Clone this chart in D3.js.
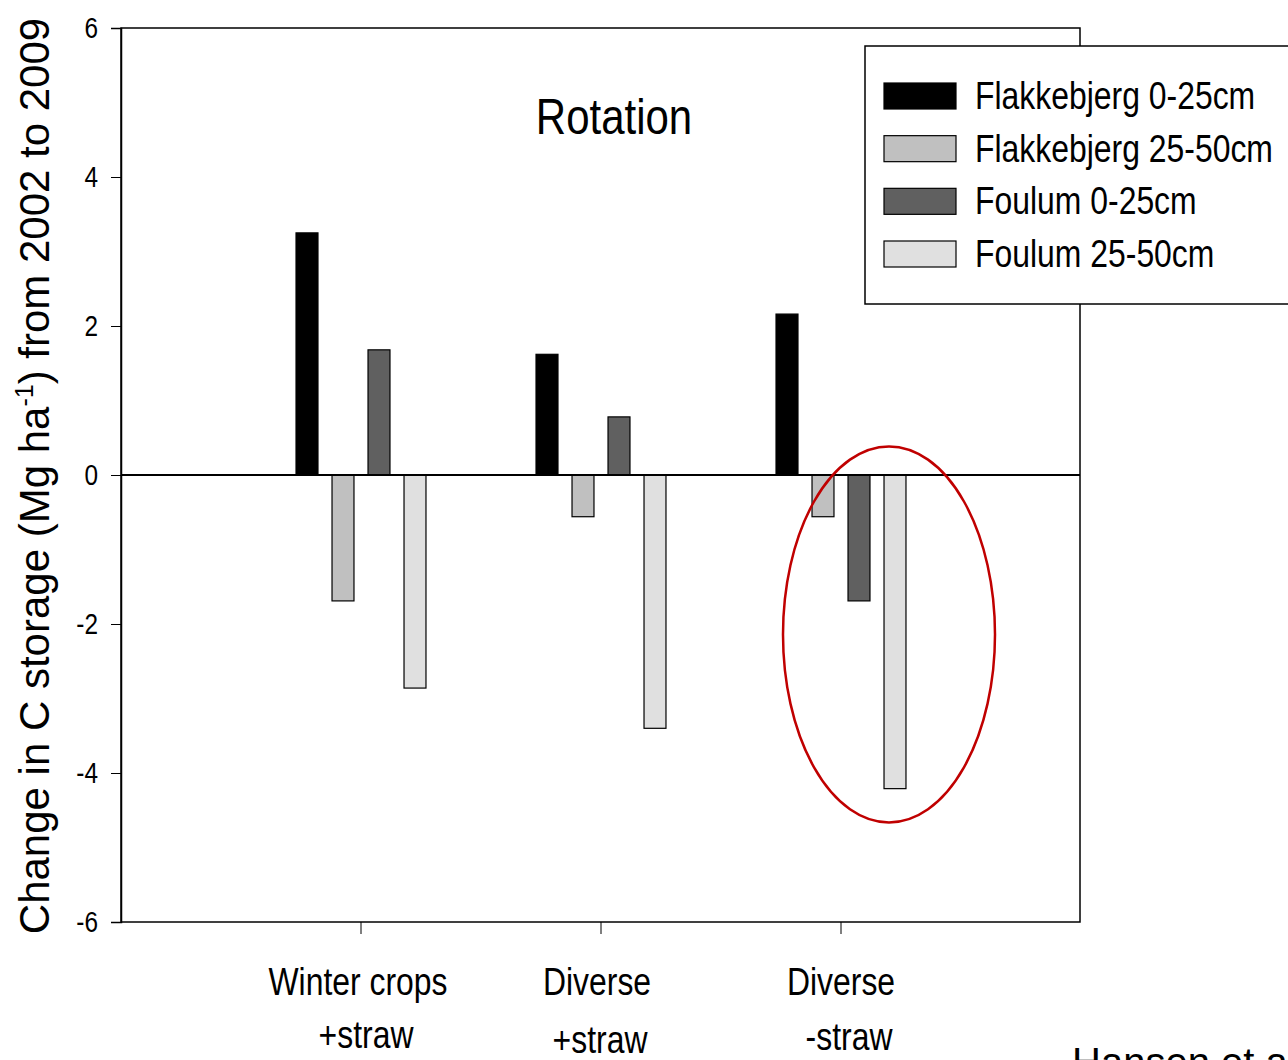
<!DOCTYPE html>
<html>
<head>
    <meta charset="utf-8">
    <title>Rotation</title>
    <script src="https://d3js.org/d3.v7.min.js"></script>
    <style>
        body { margin: 0; background: #fff; }
        text { fill: #000; }
    </style>
</head>
<body>
    <script type="text/javascript">
    // data
    const categories = ["Winter crops\n+straw", "Diverse\n+straw", "Diverse\n-straw"];
    const series = ["Flakkebjerg 0-25cm", "Flakkebjerg 25-50cm", "Foulum 0-25cm", "Foulum 25-50cm"];
    const flak0_25 = [3.25, 1.62, 2.16];
    const flak25_50 = [-1.69, -0.56, -0.56];
    const foul0_25 = [1.68, 0.78, -1.69];
    const foul25_50 = [-2.86, -3.40, -4.21];
    const yTicks = [-6, -4, -2, 0, 2, 4, 6];

    const values = [flak0_25, flak25_50, foul0_25, foul25_50];
    const fills = ["#000000", "#c0c0c0", "#606060", "#e0e0e0"];

    const width = 1288, height = 1060;
    const plot = {left: 121, right: 1080, top: 28, bottom: 922};
    const sans = "'Liberation Sans', Arial, sans-serif";
    const squeeze = 0.84; // the original uses a condensed face

    const svg = d3.select("body").append("svg")
        .attr("width", width)
        .attr("height", height);

    // condensed text helper
    function narrowText(parent, x0, y0, str, size, anchor) {
        return parent.append("text")
            .attr("transform", `translate(${x0},${y0}) scale(${squeeze},1)`)
            .attr("text-anchor", anchor || "start")
            .style("font", `${size}px ${sans}`)
            .text(str);
    }

    const y = d3.scaleLinear().domain([-6, 6]).range([plot.bottom, plot.top]);
    const x = d3.scaleBand().domain(categories).range([241, 961]);
    const xs = d3.scaleBand().domain(series).range([0, 144]).paddingInner(0.39).paddingOuter(0.195);

    // frame
    svg.append("rect")
        .attr("x", plot.left).attr("y", plot.top)
        .attr("width", plot.right - plot.left).attr("height", plot.bottom - plot.top)
        .attr("fill", "none").attr("stroke", "#000").attr("stroke-width", 1.5);

    // y axis (labels drawn separately in the condensed face)
    const yAxis = svg.append("g")
        .attr("transform", `translate(${plot.left},0)`)
        .call(d3.axisLeft(y).tickValues(yTicks).tickSize(10).tickFormat(""));
    yAxis.select(".domain").attr("stroke-width", 1.5);
    yTicks.forEach(t => {
        narrowText(svg, 98, y(t) + 10, String(t), 29, "end");
    });

    // x axis
    const xAxis = svg.append("g")
        .attr("transform", `translate(0,${plot.bottom})`)
        .call(d3.axisBottom(x).tickSize(12).tickFormat(""));
    xAxis.select(".domain").remove();

    const labelOffsets = [[-3, 5], [-4, -1], [0, 8]];
    const labelDy = [0, 5, 2];
    categories.forEach((c, i) => {
        const lines = c.split("\n");
        const cx = x(c) + x.bandwidth() / 2;
        lines.forEach((ln, j) => {
            narrowText(svg, cx + labelOffsets[i][j], 995 + j * 53 + (j ? labelDy[i] : 0), ln, 38, "middle");
        });
    });

    // bars
    series.forEach((s, si) => {
        svg.append("g").selectAll("rect")
            .data(categories.map((c, ci) => ({c, v: values[si][ci]})))
            .join("rect")
            .attr("x", d => x(d.c) + 48 + xs(s))
            .attr("y", d => y(Math.max(0, d.v)))
            .attr("width", xs.bandwidth())
            .attr("height", d => Math.abs(y(d.v) - y(0)))
            .attr("fill", fills[si])
            .attr("stroke", "#000")
            .attr("stroke-width", 1.2);
    });

    // zero line
    svg.append("line")
        .attr("x1", plot.left).attr("x2", plot.right)
        .attr("y1", y(0)).attr("y2", y(0))
        .attr("stroke", "#000").attr("stroke-width", 2.2);

    // y label
    svg.append("text")
        .attr("transform", `translate(49,476) rotate(-90)`)
        .attr("text-anchor", "middle")
        .style("font", `42px ${sans}`)
        .html("Change in C storage (Mg ha<tspan dy='-16' font-size='25'>-1</tspan><tspan dy='16'>) from 2002 to 2009</tspan>");

    // title
    narrowText(svg, 614, 134, "Rotation", 50, "middle");

    // legend
    const legend = svg.append("g");
    legend.append("rect")
        .attr("x", 865).attr("y", 46)
        .attr("width", 440).attr("height", 258)
        .attr("fill", "#fff").attr("stroke", "#000").attr("stroke-width", 1.5);
    const ly = d3.scalePoint().domain(series).range([96, 254]);
    series.forEach((s, i) => {
        legend.append("rect")
            .attr("x", 884).attr("y", ly(s) - 13)
            .attr("width", 72).attr("height", 26)
            .attr("fill", fills[i]).attr("stroke", "#000").attr("stroke-width", 1.2);
        narrowText(legend, 975, ly(s) + 13, s, 38);
    });

    // highlight ellipse
    svg.append("ellipse")
        .attr("cx", 889).attr("cy", y(-2.14))
        .attr("rx", 106).attr("ry", 188)
        .attr("fill", "none").attr("stroke", "#c00000").attr("stroke-width", 2.5);

    // source note, cut off by the edge as in the original
    svg.append("text")
        .attr("x", 1072).attr("y", 1076)
        .style("font", `40px ${sans}`)
        .text("Hansen et al.");
    </script>
</body>
</html>
